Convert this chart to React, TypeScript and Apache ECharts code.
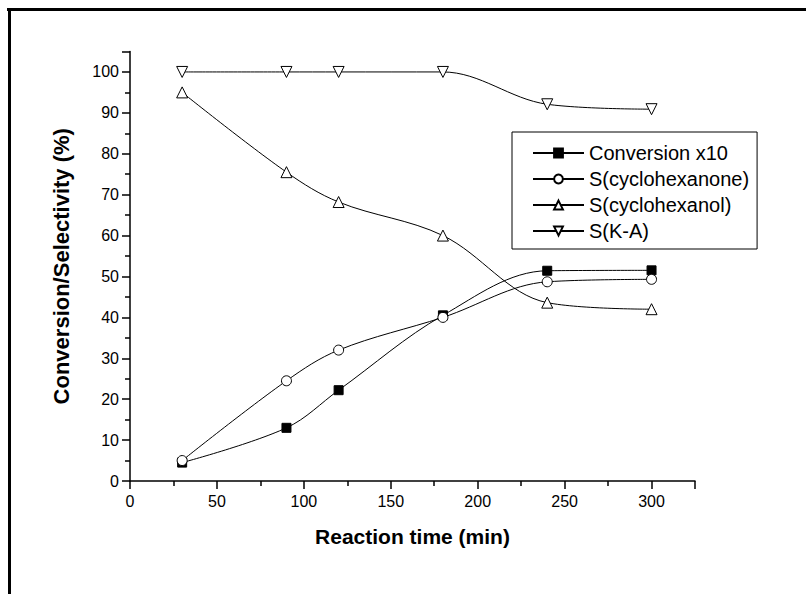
import React, { useEffect, useRef } from "react";
import * as echarts from "echarts";

const times = [30, 90, 120, 180, 240, 300];
const conversionX10 = [4.5, 13, 22.2, 40.5, 51.4, 51.5];
const sCyclohexanone = [5, 24.5, 32, 40, 48.7, 49.3];
const sCyclohexanol = [95, 75.5, 68.2, 60, 43.6, 42];
const sKA = [100, 100, 100, 100, 92.1, 90.9];
const seriesNames = ["Conversion x10", "S(cyclohexanone)", "S(cyclohexanol)", "S(K-A)"];

const FONT = "'Liberation Sans', Arial, sans-serif";

function pairs(ys: number[]) {
  return times.map((t, i) => [t, ys[i]]);
}

export default function App() {
  const ref = useRef<HTMLDivElement>(null);
  useEffect(() => {
    if (!ref.current) return;
    const chart = echarts.init(ref.current, undefined, { renderer: "svg" });
    const baseSeries = (name: string, ys: number[], symbol: string, fill: string, size: number, rotate = 0) => ({
      name,
      type: "line",
      data: pairs(ys),
      smooth: 0.35,
      symbol,
      symbolSize: size,
      symbolRotate: rotate,
      showAllSymbol: true,
      lineStyle: { color: "#000", width: 1 },
      itemStyle: { color: fill, borderColor: "#000", borderWidth: 1 },
      emphasis: { disabled: true },
    });
    chart.setOption({
      animation: false,
      backgroundColor: "#fff",
      textStyle: { fontFamily: FONT },
      grid: { left: 130, right: 111, top: 51.5, bottom: 113, containLabel: false },
      xAxis: {
        type: "value",
        min: 0,
        max: 325,
        interval: 50,
        name: "Reaction time (min)",
        nameLocation: "middle",
        nameGap: 45,
        nameTextStyle: { fontFamily: FONT, fontSize: 21, fontWeight: "bold", color: "#000" },
        axisLine: { show: true, onZero: false, lineStyle: { color: "#000", width: 1.5 } },
        axisTick: { show: true, inside: false, length: 8, lineStyle: { color: "#000", width: 1.5 } },
        minorTick: { show: true, splitNumber: 2, length: 5, lineStyle: { color: "#000", width: 1.5 } },
        axisLabel: { fontFamily: FONT, fontSize: 16, color: "#000", margin: 12, showMaxLabel: false },
        splitLine: { show: false },
      },
      yAxis: {
        type: "value",
        min: 0,
        max: 105,
        interval: 10,
        name: "Conversion/Selectivity (%)",
        nameLocation: "middle",
        nameGap: 58,
        nameTextStyle: { fontFamily: FONT, fontSize: 22, fontWeight: "bold", color: "#000" },
        axisLine: { show: true, onZero: false, lineStyle: { color: "#000", width: 1.5 } },
        axisTick: { show: true, inside: false, length: 8, lineStyle: { color: "#000", width: 1.5 } },
        minorTick: { show: true, splitNumber: 2, length: 5, lineStyle: { color: "#000", width: 1.5 } },
        axisLabel: { fontFamily: FONT, fontSize: 16, color: "#000", margin: 11, showMaxLabel: false },
        splitLine: { show: false },
      },
      legend: {
        show: true,
        orient: "vertical",
        left: 512,
        top: 132,
        data: seriesNames,
        padding: [11, 8, 8, 20],
        itemGap: 6,
        itemWidth: 51,
        itemHeight: 11,
        borderColor: "#000",
        borderWidth: 1,
        backgroundColor: "#fff",
        selectedMode: false,
        textStyle: { fontFamily: FONT, fontSize: 20, color: "#000", lineHeight: 20 },
      },
      graphic: [
        { type: "rect", shape: { x: 7, y: 8, width: 799, height: 3 }, style: { fill: "#000" }, silent: true },
        { type: "rect", shape: { x: 8, y: 8, width: 3, height: 586 }, style: { fill: "#000" }, silent: true },
      ],
      series: [
        baseSeries(seriesNames[0], conversionX10, "rect", "#000", 9),
        baseSeries(seriesNames[1], sCyclohexanone, "circle", "#fff", 10),
        baseSeries(seriesNames[2], sCyclohexanol, "triangle", "#fff", 11),
        baseSeries(seriesNames[3], sKA, "triangle", "#fff", 11, 180),
      ],
    });
    return () => chart.dispose();
  }, []);
  return <div ref={ref} style={{ position: "fixed", left: 0, top: 0, width: 806, height: 594 }} />;
}
